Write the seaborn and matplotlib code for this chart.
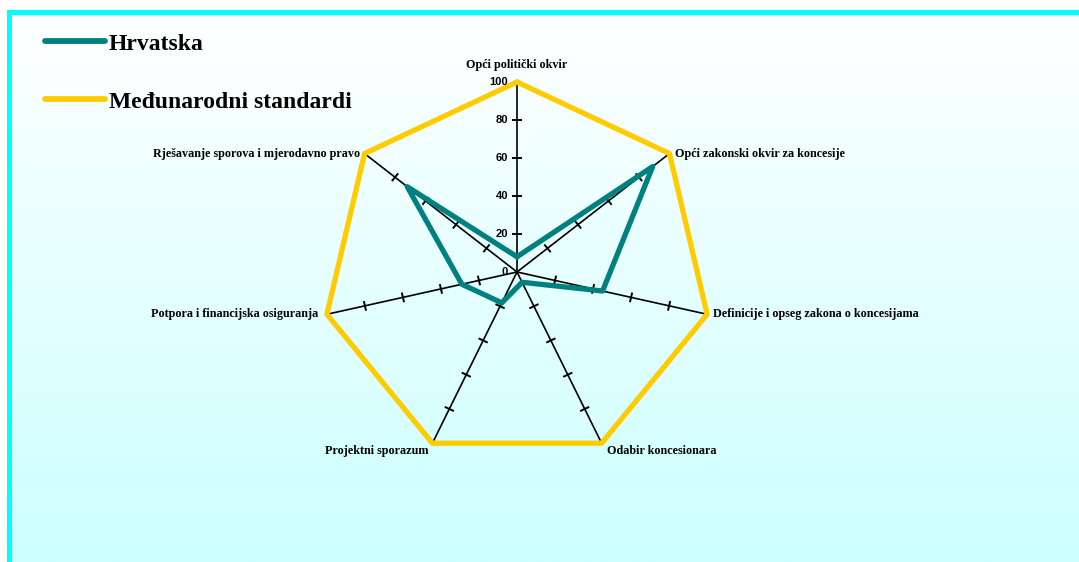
import numpy as np
import pandas as pd
import seaborn as sns
import matplotlib.pyplot as plt
from matplotlib.patches import Rectangle
from matplotlib.collections import LineCollection

# Data
categories = [
    "Opći politički okvir",
    "Opći zakonski okvir za koncesije",
    "Definicije i opseg zakona o koncesijama",
    "Odabir koncesionara",
    "Projektni sporazum",
    "Potpora i financijska osiguranja",
    "Rješavanje sporova i mjerodavno pravo",
]
hrvatska = [8, 89, 45, 6, 18, 29, 72]
standardi = [100, 100, 100, 100, 100, 100, 100]
series_names = ["Hrvatska", "Međunarodni standardi"]
series_colors = ["#008080", "#FFCC00"]
tick_values = [20, 40, 60, 80]
tick_labels = ["0", "20", "40", "60", "80", "100"]

W, H = 1079, 562
CX, CY = 517, 272      # centre of the radar in pixels
SX, SY = 1.95, 1.90    # pixels per value unit

sns.set_theme(style="white")
plt.rcParams["font.family"] = ["Liberation Serif", "DejaVu Serif"]
plt.rcParams["text.color"] = "black"

fig = plt.figure(figsize=(W / 100, H / 100), dpi=100)

# background: white page, cyan frame, white-to-cyan gradient
bg = fig.add_axes([0, 0, 1, 1], zorder=0)
bg.set_xlim(0, W)
bg.set_ylim(H, 0)
bg.axis("off")
grad = np.linspace(0, 1, 256).reshape(-1, 1)
top_col = np.array([1.0, 1.0, 1.0])
bot_col = np.array([204, 255, 255]) / 255
img = top_col + (bot_col - top_col) * grad[..., None]
bg.imshow(img, extent=[7, W, H, 10], aspect="auto", interpolation="bilinear")
bg.add_patch(Rectangle((7, 10), W - 7, 5, color="#00FFFF", lw=0))
bg.add_patch(Rectangle((7, 10), 5, H - 10, color="#00FFFF", lw=0))

ax = fig.add_axes([0, 0, 1, 1], zorder=1)
ax.patch.set_alpha(0)
ax.set_xlim(-CX / SX, (W - CX) / SX)
ax.set_ylim(-(H - CY) / SY, CY / SY)
ax.axis("off")

n = len(categories)
theta = np.arange(n) * 2 * np.pi / n


def polar_xy(values):
    v = np.asarray(values, dtype=float)
    return v * np.sin(theta), v * np.cos(theta)


# spokes
for t in theta:
    ax.plot([0, 100 * np.sin(t)], [0, 100 * np.cos(t)], color="black", lw=1.2, zorder=2)

# tick marks on each spoke
segs = []
for t in theta:
    px, py = np.cos(t) * 2.6, -np.sin(t) * 2.6
    for v in tick_values:
        x0, y0 = v * np.sin(t), v * np.cos(t)
        segs.append([(x0 - px, y0 - py), (x0 + px, y0 + py)])
ax.add_collection(LineCollection(segs, colors="black", linewidths=1.4, zorder=2))

# value labels on the top spoke
for i, lab in enumerate(tick_labels):
    ax.annotate(lab, (0, i * 20), xytext=(-6.5, 0), textcoords="offset points",
                ha="right", va="center", fontsize=8, fontweight="bold",
                family=["Liberation Sans", "DejaVu Sans"], zorder=3)

# polygons
rows = []
for name, vals in zip(series_names, [hrvatska, standardi]):
    xs, ys = polar_xy(vals)
    xs = np.append(xs, xs[0])
    ys = np.append(ys, ys[0])
    for k, (x, y) in enumerate(zip(xs, ys)):
        rows.append({"series": name, "order": k, "x": x, "y": y})
df = pd.DataFrame(rows)

sns.lineplot(data=df, x="x", y="y", hue="series", hue_order=series_names,
             palette=series_colors, sort=False, estimator=None, lw=3.8, ax=ax)
for line in ax.get_lines()[-2:]:
    line.set_solid_joinstyle("miter")
    line.set_zorder(4)

# category labels
label_pos = [
    (0, 8, "center", "bottom"),
    (4, 0, "left", "center"),
    (4, 0, "left", "center"),
    (4, -1, "left", "top"),
    (-3, -1, "right", "top"),
    (-6, 0, "right", "center"),
    (-3, 0, "right", "center"),
]
xs, ys = polar_xy(standardi)
for k, cat in enumerate(categories):
    dx, dy, ha, va = label_pos[k]
    ax.annotate(cat, (xs[k], ys[k]), xytext=(dx, dy), textcoords="offset points",
                ha=ha, va=va, fontsize=8.7, fontweight="bold", zorder=5)

# legend
handles, labels = ax.get_legend_handles_labels()
leg = ax.legend(handles, labels, loc="upper left", bbox_to_anchor=(45 / W, 1 - 33 / H),
                bbox_transform=fig.transFigure, frameon=False, borderpad=0,
                borderaxespad=0, handlelength=2.55, handletextpad=0.15,
                labelspacing=1.55, prop={"size": 17, "weight": "bold"})
for h in leg.get_lines():
    h.set_linewidth(4.2)
    h.set_solid_capstyle("round")

fig.savefig("out.png", dpi=100)
